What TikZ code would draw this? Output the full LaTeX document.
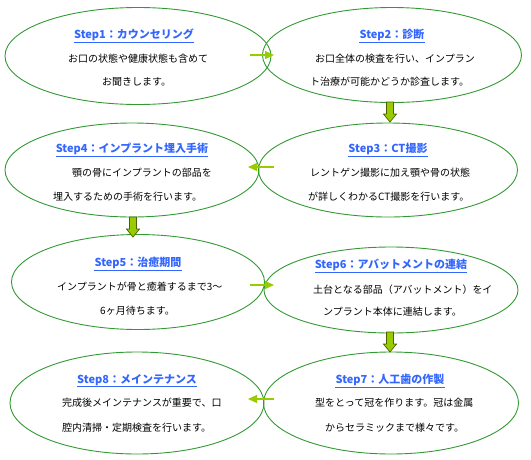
\documentclass[tikz,border=0pt]{standalone}
\usepackage{fontspec}
\newfontfamily\jp{Noto Sans CJK JP}
\usetikzlibrary{shapes.geometric,arrows.meta}
\definecolor{ellgreen}{HTML}{339933}
\definecolor{titleblue}{HTML}{3366FF}
\definecolor{arrgreen}{HTML}{99CC00}
\definecolor{arrdark}{HTML}{4D5F00}
\begin{document}
\begin{tikzpicture}[x=1pt,y=-1pt,
 ell/.style={ellipse, draw=ellgreen, line width=0.9pt, inner sep=0pt},
 ttl/.style={font=\jp\bfseries\fontsize{11}{13}\selectfont, text=titleblue, inner sep=0pt},
 uline/.style={draw=titleblue, line width=0.8pt},
 body/.style={font=\jp\fontsize{10}{12}\selectfont, inner sep=0pt, anchor=west},
 harr/.style={draw=arrgreen, line width=1.2pt, -{Triangle[length=9pt,width=8pt]}},
 varr/.style={draw=arrdark, fill=arrgreen, line width=0.7pt},
 downarr/.pic={\path[varr] (-3.5,0) -- (3.5,0) -- (3.5,12) -- (6.5,12) -- (0,20) -- (-6.5,12) -- (-3.5,12) -- cycle;}
]
\useasboundingbox (0,0) rectangle (531,459);

% ellipses
\node[ell, minimum width=266pt, minimum height=97pt] (e1) at (138,56) {};
\node[ell, minimum width=259pt, minimum height=95pt] (e2) at (392,55) {};
\node[ell, minimum width=259pt, minimum height=94pt] (e3) at (388,170) {};
\node[ell, minimum width=254pt, minimum height=94pt] (e4) at (132,170) {};
\node[ell, minimum width=253pt, minimum height=95pt] (e5) at (138,282) {};
\node[ell, minimum width=254pt, minimum height=86pt] (e6) at (391,290) {};
\node[ell, minimum width=255pt, minimum height=102pt] (e7) at (391,403) {};
\node[ell, minimum width=254pt, minimum height=102pt] (e8) at (137,403) {};

% titles
\node[ttl] (t1) at (134,35) {Step1：カウンセリング};
\node[ttl] (t2) at (392,35) {Step2：診断};
\node[ttl] (t4) at (132,149) {Step4：インプラント埋入手術};
\node[ttl] (t3) at (388,149) {Step3：CT撮影};
\node[ttl] (t5) at (138,263) {Step5：治癒期間};
\node[ttl] (t6) at (391,265) {Step6：アバットメントの連結};
\node[ttl] (t8) at (137,380) {Step8：メインテナンス};
\node[ttl] (t7) at (390,380) {Step7：人工歯の作製};
\foreach \t in {t1,t2,t3,t4,t5,t6,t7,t8}
  \draw[uline] ([yshift=-1pt]\t.south west) -- ([yshift=-1pt]\t.south east);

% body text
\node[body] (b1a) at (68,59) {お口の状態や健康状態も含めて};
\node[body] (b1b) at (102,82) {お聞きします。};
\node[body] (b2a) at (315,59) {お口全体の検査を行い、インプラン};
\node[body] (b2b) at (310,82) {ト治療が可能かどうか診査します。};
\node[body] (b4a) at (72,173) {顎の骨にインプラントの部品を};
\node[body] (b4b) at (53,197) {埋入するための手術を行います。};
\node[body] (b3a) at (310,173) {レントゲン撮影に加え顎や骨の状態};
\node[body] (b3b) at (308,197) {が詳しくわかるCT撮影を行います。};
\node[body] (b5a) at (57,287) {インプラントが骨と癒着するまで3〜};
\node[body] (b5b) at (100,311) {6ヶ月待ちます。};
\node[body] (b6a) at (313,290) {土台となる部品（アバットメント）をイ};
\node[body] (b6b) at (323,312) {ンプラント本体に連結します。};
\node[body] (b8a) at (62,403) {完成後メインテナンスが重要で、口};
\node[body] (b8b) at (62,428) {腔内清掃・定期検査を行います。};
\node[body] (b7a) at (315,403) {型をとって冠を作ります。冠は金属};
\node[body] (b7b) at (325,428) {からセラミックまで様々です。};

% horizontal arrows
\coordinate (h1s) at (250,55);  \coordinate (h1e) at (274,55);
\coordinate (h2s) at (274,167); \coordinate (h2e) at (248,167);
\coordinate (h3s) at (250,285); \coordinate (h3e) at (274,285);
\coordinate (h4s) at (274,399); \coordinate (h4e) at (248,399);
\draw[harr] (h1s) -- (h1e);
\draw[harr] (h2s) -- (h2e);
\draw[harr] (h3s) -- (h3e);
\draw[harr] (h4s) -- (h4e);

% vertical block arrows
\pic (v1) at (390,102) {downarr};
\pic (v2) at (133,217) {downarr};
\pic (v3) at (390,332) {downarr};
\end{tikzpicture}
\end{document}
